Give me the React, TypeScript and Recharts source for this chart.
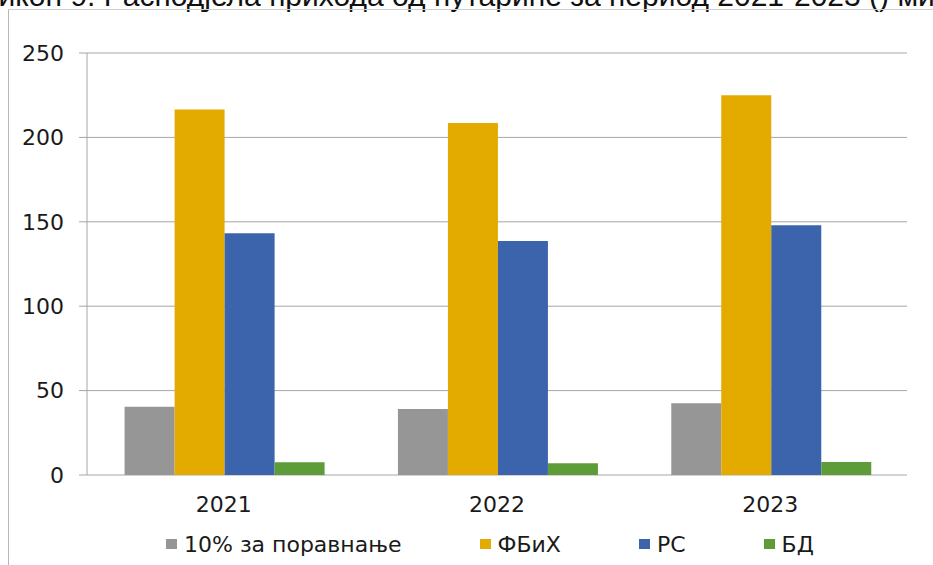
import { Bar, BarChart, CartesianGrid, Legend, XAxis, YAxis } from "recharts"

const years = ["2021", "2022", "2023"]
const equalization = [40.5, 39.1, 42.5]
const fbih = [216.6, 208.5, 225]
const rs = [143.2, 138.6, 148]
const bd = [7.5, 6.9, 7.7]
const yTicks = [0, 50, 100, 150, 200, 250]
const edgeTicks = [0, 1, 2, 3]

const series = [
	{ key: "eq", name: "10% за поравнање", color: "#969696" },
	{ key: "fbih", name: "ФБиХ", color: "#E3AA00" },
	{ key: "rs", name: "РС", color: "#3B64AD" },
	{ key: "bd", name: "БД", color: "#5E9C3A" },
]

const data = years.map((year, i) => ({
	year,
	eq: equalization[i],
	fbih: fbih[i],
	rs: rs[i],
	bd: bd[i],
}))

const font = "'DejaVu Sans', Verdana, sans-serif"
const grid = "#a6a6a6"
const text = "#1a1a1a"

// legend keeps series order (recharts sorts payload otherwise)
const LegendContent = () => (
	<div
		style={{
			display: "flex",
			alignItems: "center",
			height: 30,
			paddingLeft: 166,
			fontFamily: font,
			fontSize: 22,
			color: text,
		}}
	>
		{series.map((s) => (
			<div
				key={s.key}
				style={{ display: "flex", alignItems: "center", marginRight: 78 }}
			>
				<span
					style={{
						display: "inline-block",
						width: 11,
						height: 10,
						background: s.color,
						marginRight: 7,
					}}
				/>
				{s.name}
			</div>
		))}
	</div>
)

const App = () => {
	return (
		<div
			style={{
				position: "absolute",
				left: 0,
				top: 0,
				width: 933,
				height: 565,
				overflow: "hidden",
				background: "#fff",
			}}
		>
			<svg
				width={933}
				height={565}
				style={{ position: "absolute", left: 0, top: 0 }}
			>
				<text
					x={-74}
					y={6}
					fontFamily="'Liberation Sans', Arial, sans-serif"
					fontSize={30}
					fill="#111"
				>
					Графикон 9. Расподјела прихода од путарине за период 2021-2023 () милиона КМ
				</text>
				<line x1={8} y1={9.5} x2={933} y2={9.5} stroke="#cfcfcf" />
				<line x1={8.5} y1={9.5} x2={8.5} y2={565} stroke="#b8b8b8" />
			</svg>
			<BarChart
				width={933}
				height={565}
				data={data}
				margin={{ top: 53, right: 26, left: 0, bottom: 6 }}
				barCategoryGap={37.6}
				barGap={0}
			>
				<CartesianGrid vertical={false} stroke={grid} />
				<XAxis
					xAxisId="edge"
					type="number"
					domain={[0, 3]}
					ticks={edgeTicks}
					allowDataOverflow
					height={0}
					tickSize={8}
					tickFormatter={() => ""}
					axisLine={{ stroke: grid }}
					tickLine={{ stroke: grid }}
				/>
				<XAxis
					dataKey="year"
					height={54}
					tickLine={false}
					axisLine={false}
					tickSize={0}
					tickMargin={21}
					tick={{ fontSize: 22, fill: text, fontFamily: font }}
				/>
				<YAxis
					width={87}
					domain={[0, 250]}
					ticks={yTicks}
					interval={0}
					tickSize={8}
					tickMargin={15}
					axisLine={{ stroke: grid }}
					tickLine={{ stroke: grid }}
					tick={{ fontSize: 22, fill: text, fontFamily: font }}
				/>
				<Legend
					verticalAlign="bottom"
					wrapperStyle={{ left: 0, width: 933 }}
					content={<LegendContent />}
				/>
				{series.map((s) => (
					<Bar
						key={s.key}
						dataKey={s.key}
						name={s.name}
						fill={s.color}
						isAnimationActive={false}
					/>
				))}
			</BarChart>
		</div>
	)
}

export default App
